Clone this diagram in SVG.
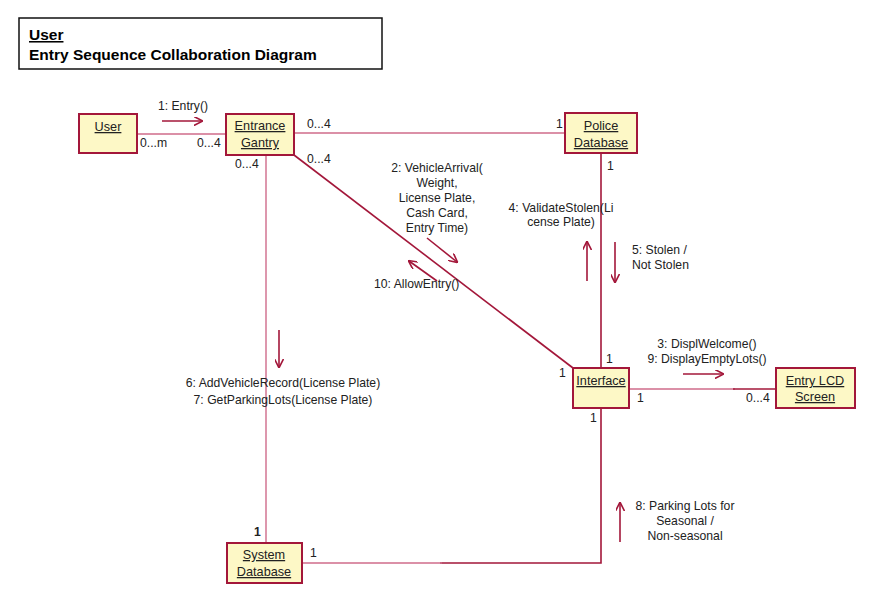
<svg xmlns="http://www.w3.org/2000/svg" width="880" height="610" viewBox="0 0 880 610">
<defs>
<style>
text{font-family:"Liberation Sans",Arial,sans-serif;font-size:12.2px;fill:#222}
.t{font-weight:bold;font-size:15.5px;fill:#000}
.n rect{fill:#fdf8c6;stroke:#a3173a;stroke-width:2}
.n text{text-anchor:middle;text-decoration:underline;font-size:12.7px}
.c{fill:none;stroke:#a3173a;stroke-width:1.6}
.cl{fill:none;stroke:#cf6b8a;stroke-width:1.4}
.m{fill:none;stroke:#a3173a;stroke-width:1.6}
.mid{text-anchor:middle}
</style>
<marker id="ah" viewBox="0 0 10 10" refX="9" refY="5" markerWidth="9" markerHeight="9" orient="auto" markerUnits="userSpaceOnUse">
<path d="M0,0 L10,5 L0,10" fill="none" stroke="#a3173a" stroke-width="1.8"/>
</marker>
</defs>
<rect width="880" height="610" fill="#fff"/>
<g id="title">
<rect x="19" y="18" width="363" height="51" fill="#fff" stroke="#111" stroke-width="1.5"/>
<text class="t" x="29" y="40" text-decoration="underline">User</text>
<text class="t" x="29" y="60">Entry Sequence Collaboration Diagram</text>
</g>
<g id="connectors">
<line class="cl" x1="137" y1="134" x2="226" y2="134"/>
<line class="cl" x1="294" y1="133" x2="565" y2="133"/>
<line class="c" x1="294" y1="155" x2="573" y2="368"/>
<line class="cl" x1="266" y1="155" x2="266" y2="543"/>
<line class="c" x1="601" y1="153" x2="601" y2="368"/>
<line class="cl" x1="629" y1="389" x2="735" y2="389"/>
<line class="c" x1="733" y1="389" x2="776" y2="389"/>
<path class="c" d="M601,408 V563 H440"/>
<line class="cl" x1="302" y1="563" x2="442" y2="563"/>
</g>
<g id="messages">
<line class="m" x1="162" y1="121" x2="202" y2="121" marker-end="url(#ah)"/>
<text class="mid" x="183" y="110">1: Entry()</text>
<line class="m" x1="427" y1="238" x2="457" y2="262" marker-end="url(#ah)"/>
<text class="mid" x="437" y="172">2: VehicleArrival(</text>
<text class="mid" x="437" y="187">Weight,</text>
<text class="mid" x="437" y="202">License Plate,</text>
<text class="mid" x="437" y="217">Cash Card,</text>
<text class="mid" x="437" y="232">Entry Time)</text>
<line class="m" x1="437" y1="281" x2="409" y2="261" marker-end="url(#ah)"/>
<text x="374" y="288">10: AllowEntry()</text>
<line class="m" x1="587" y1="281" x2="587" y2="242" marker-end="url(#ah)"/>
<text class="mid" x="561" y="212">4: ValidateStolen(Li</text>
<text class="mid" x="561" y="226">cense Plate)</text>
<line class="m" x1="615" y1="242" x2="615" y2="282" marker-end="url(#ah)"/>
<text x="632" y="254">5: Stolen /</text>
<text x="632" y="269">Not Stolen</text>
<line class="m" x1="683" y1="374" x2="723" y2="374" marker-end="url(#ah)"/>
<text class="mid" x="707" y="348">3: DisplWelcome()</text>
<text class="mid" x="707" y="363">9: DisplayEmptyLots()</text>
<line class="m" x1="279" y1="330" x2="279" y2="367" marker-end="url(#ah)"/>
<text class="mid" x="283" y="387">6: AddVehicleRecord(License Plate)</text>
<text class="mid" x="283" y="404">7: GetParkingLots(License Plate)</text>
<line class="m" x1="620" y1="542" x2="620" y2="503" marker-end="url(#ah)"/>
<text class="mid" x="685" y="510">8: Parking Lots for</text>
<text class="mid" x="685" y="525">Seasonal /</text>
<text class="mid" x="685" y="540">Non-seasonal</text>
</g>
<g id="multiplicities">
<text x="140" y="147">0...m</text>
<text x="197" y="147">0...4</text>
<text x="307" y="128">0...4</text>
<text x="235" y="168">0...4</text>
<text x="307" y="163">0...4</text>
<text x="556" y="128">1</text>
<text x="607" y="170">1</text>
<text x="559" y="377">1</text>
<text x="606" y="363">1</text>
<text x="637" y="402">1</text>
<text x="746" y="402">0...4</text>
<text x="590" y="422">1</text>
<text x="254" y="536" font-weight="bold">1</text>
<text x="310" y="557">1</text>
</g>
<g id="user" class="n"><rect x="79" y="114" width="58" height="39"/><text x="108" y="131">User</text></g>
<g id="entrance-gantry" class="n"><rect x="226" y="114" width="68" height="41"/><text x="260" y="130">Entrance</text><text x="260" y="147">Gantry</text></g>
<g id="police-database" class="n"><rect x="565" y="113" width="72" height="40"/><text x="601" y="130">Police</text><text x="601" y="147">Database</text></g>
<g id="interface" class="n"><rect x="573" y="368" width="56" height="40"/><text x="601" y="385">Interface</text></g>
<g id="entry-lcd-screen" class="n"><rect x="776" y="368" width="79" height="40"/><text x="815" y="385">Entry LCD</text><text x="815" y="401">Screen</text></g>
<g id="system-database" class="n"><rect x="227" y="543" width="75" height="40"/><text x="264" y="559">System</text><text x="264" y="576">Database</text></g>
</svg>
